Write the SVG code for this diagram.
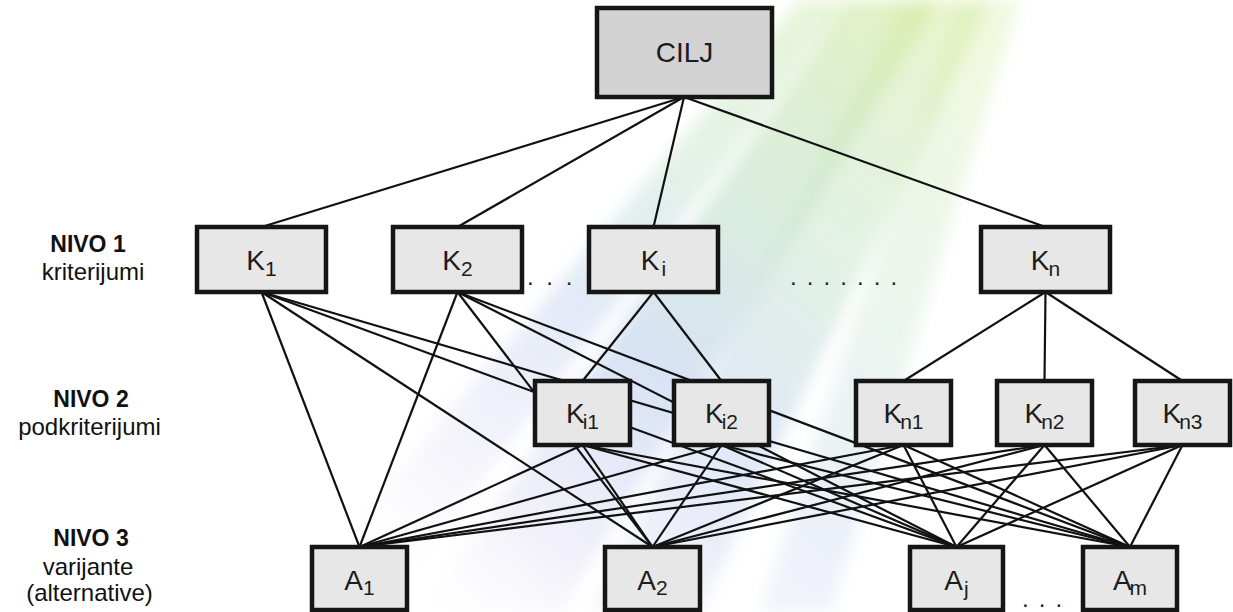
<svg xmlns="http://www.w3.org/2000/svg" width="1233" height="612" viewBox="0 0 1233 612">
<defs>
<linearGradient id="streak" gradientUnits="userSpaceOnUse" x1="900" y1="0" x2="380" y2="612">
<stop offset="0" stop-color="#d3eaa2" stop-opacity="0.85"/>
<stop offset="0.3" stop-color="#bde0c4" stop-opacity="0.75"/>
<stop offset="0.55" stop-color="#b4c9ea" stop-opacity="0.7"/>
<stop offset="0.8" stop-color="#d9d4f0" stop-opacity="0.45"/>
<stop offset="1" stop-color="#ffffff" stop-opacity="0"/>
</linearGradient>
<filter id="soft" x="-20%" y="-20%" width="140%" height="140%"><feGaussianBlur stdDeviation="8"/></filter>
<style>
.box{stroke:#161616;stroke-width:4.5}
.lvl{fill:#e7e7e7}
.goal{fill:#d3d3d3}
.lbl{font-family:"Liberation Sans",Arial,sans-serif;font-size:28px;fill:#1c1c1c;text-anchor:middle}
.sub{font-size:21px}
.side{font-family:"Liberation Sans",Arial,sans-serif;font-size:24px;fill:#111;text-anchor:middle}
.bold{font-weight:bold;font-size:23px}
.edge{stroke:#111;stroke-width:2.2;fill:none}
.dots{font-family:"Liberation Sans",Arial,sans-serif;font-size:24px;fill:#222}
</style>
</defs>
<rect width="1233" height="612" fill="#ffffff"/>
<g id="background" fill="url(#streak)" filter="url(#soft)">
<polygon points="850,0 940,0 560,612 420,612" opacity="0.75"/>
<polygon points="905,0 990,0 700,612 590,612" opacity="0.6"/>
<polygon points="800,0 850,0 380,612 280,612" opacity="0.55"/>
<polygon points="960,0 1020,0 830,612 760,612" opacity="0.4"/>
</g>
<g id="connectors" class="edge">
<line x1="684" y1="97" x2="261.5" y2="227"/>
<line x1="684" y1="97" x2="457.5" y2="227"/>
<line x1="684" y1="97" x2="653.5" y2="227"/>
<line x1="684" y1="97" x2="1045.5" y2="227"/>
<line x1="653.5" y1="292" x2="582.5" y2="381"/>
<line x1="653.5" y1="292" x2="721.5" y2="381"/>
<line x1="1045.5" y1="292" x2="903.5" y2="381"/>
<line x1="1045.5" y1="292" x2="1044.5" y2="381"/>
<line x1="1045.5" y1="292" x2="1182.5" y2="381"/>
<line x1="261.5" y1="292" x2="359.5" y2="547"/>
<line x1="261.5" y1="292" x2="652.5" y2="547"/>
<line x1="261.5" y1="292" x2="956.5" y2="547"/>
<line x1="261.5" y1="292" x2="1130" y2="547"/>
<line x1="457.5" y1="292" x2="359.5" y2="547"/>
<line x1="457.5" y1="292" x2="652.5" y2="547"/>
<line x1="457.5" y1="292" x2="956.5" y2="547"/>
<line x1="457.5" y1="292" x2="1130" y2="547"/>
<line x1="582.5" y1="445" x2="359.5" y2="547"/>
<line x1="582.5" y1="445" x2="652.5" y2="547"/>
<line x1="582.5" y1="445" x2="956.5" y2="547"/>
<line x1="582.5" y1="445" x2="1130" y2="547"/>
<line x1="721.5" y1="445" x2="359.5" y2="547"/>
<line x1="721.5" y1="445" x2="652.5" y2="547"/>
<line x1="721.5" y1="445" x2="956.5" y2="547"/>
<line x1="721.5" y1="445" x2="1130" y2="547"/>
<line x1="903.5" y1="445" x2="359.5" y2="547"/>
<line x1="903.5" y1="445" x2="652.5" y2="547"/>
<line x1="903.5" y1="445" x2="956.5" y2="547"/>
<line x1="903.5" y1="445" x2="1130" y2="547"/>
<line x1="1044.5" y1="445" x2="359.5" y2="547"/>
<line x1="1044.5" y1="445" x2="652.5" y2="547"/>
<line x1="1044.5" y1="445" x2="956.5" y2="547"/>
<line x1="1044.5" y1="445" x2="1130" y2="547"/>
<line x1="1182.5" y1="445" x2="359.5" y2="547"/>
<line x1="1182.5" y1="445" x2="652.5" y2="547"/>
<line x1="1182.5" y1="445" x2="956.5" y2="547"/>
<line x1="1182.5" y1="445" x2="1130" y2="547"/>
</g>
<g id="goal"><rect class="box goal" x="597" y="8" width="175" height="89"/><text class="lbl" x="684.5" y="62">CILJ</text></g>
<g id="K1"><rect class="box lvl" x="197" y="227" width="129" height="65"/><text class="lbl" x="261.5" y="270">K<tspan class="sub" dy="6">1</tspan></text></g>
<g id="K2"><rect class="box lvl" x="393" y="227" width="129" height="65"/><text class="lbl" x="457.5" y="270">K<tspan class="sub" dy="6">2</tspan></text></g>
<g id="Ki"><rect class="box lvl" x="589" y="227" width="129" height="65"/><text class="lbl" x="653.5" y="270">K<tspan class="sub" dy="6" dx="2">i</tspan></text></g>
<g id="Kn"><rect class="box lvl" x="981" y="227" width="129" height="65"/><text class="lbl" x="1045.5" y="270">K<tspan class="sub" dy="6" dx="-1">n</tspan></text></g>
<g id="Ki1"><rect class="box lvl" x="535" y="381" width="95" height="64"/><text class="lbl" x="582.5" y="423">K<tspan class="sub" dy="6" dx="-2">i1</tspan></text></g>
<g id="Ki2"><rect class="box lvl" x="674" y="381" width="95" height="64"/><text class="lbl" x="721.5" y="423">K<tspan class="sub" dy="6" dx="-2">i2</tspan></text></g>
<g id="Kn1"><rect class="box lvl" x="856" y="381" width="95" height="64"/><text class="lbl" x="903.5" y="423">K<tspan class="sub" dy="6" dx="-2">n1</tspan></text></g>
<g id="Kn2"><rect class="box lvl" x="997" y="381" width="95" height="64"/><text class="lbl" x="1044.5" y="423">K<tspan class="sub" dy="6" dx="-2">n2</tspan></text></g>
<g id="Kn3"><rect class="box lvl" x="1135" y="381" width="95" height="64"/><text class="lbl" x="1182.5" y="423">K<tspan class="sub" dy="6" dx="-2">n3</tspan></text></g>
<g id="A1"><rect class="box lvl" x="312" y="547" width="95" height="63"/><text class="lbl" x="359.5" y="590">A<tspan class="sub" dy="5">1</tspan></text></g>
<g id="A2"><rect class="box lvl" x="605" y="547" width="95" height="63"/><text class="lbl" x="652.5" y="590">A<tspan class="sub" dy="5">2</tspan></text></g>
<g id="Aj"><rect class="box lvl" x="910" y="547" width="93" height="63"/><text class="lbl" x="956.5" y="590">A<tspan class="sub" dy="6" dx="1">j</tspan></text></g>
<g id="Am"><rect class="box lvl" x="1083" y="547" width="94" height="63"/><text class="lbl" x="1130" y="590">A<tspan class="sub" dy="5" dx="-2">m</tspan></text></g>
<g id="dots">
<text class="dots" x="527" y="285" letter-spacing="3">. . .</text>
<text class="dots" x="790" y="285" letter-spacing="1.7">. . . . . . .</text>
<text class="dots" x="1022" y="607" letter-spacing="1.7">. . .</text>
</g>
<g id="levels">
<text class="side bold" x="88" y="252">NIVO 1</text>
<text class="side" x="93" y="280">kriterijumi</text>
<text class="side bold" x="91" y="407">NIVO 2</text>
<text class="side" x="89.5" y="435">podkriterijumi</text>
<text class="side bold" x="91" y="546">NIVO 3</text>
<text class="side" x="88" y="575">varijante</text>
<text class="side" x="89.5" y="601">(alternative)</text>
</g>
</svg>
